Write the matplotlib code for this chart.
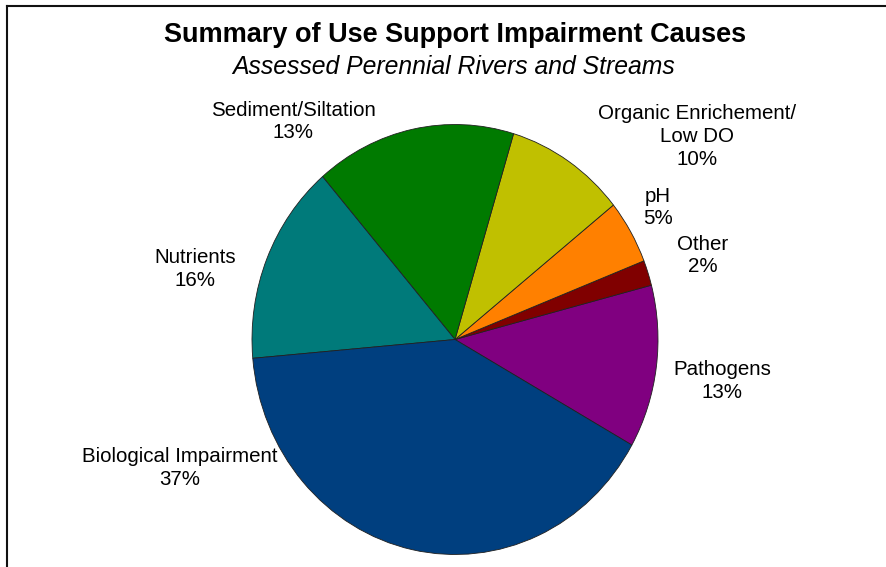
import matplotlib
matplotlib.use("Agg")
import matplotlib.pyplot as plt
from matplotlib.lines import Line2D

# ---- data (slice sizes, label text as printed) ----
categories = ["Pathogens", "Other", "pH", "Organic Enrichement/\nLow DO",
              "Sediment/Siltation", "Nutrients", "Biological Impairment"]
slice_values = [12.25, 1.9, 4.8, 9.6, 16.0, 15.1, 40.5]
label_pcts = ["13%", "2%", "5%", "10%", "13%", "16%", "37%"]
colors = ["#800080", "#800000", "#FF8000", "#C0C000",
          "#007A00", "#007A7A", "#003F7F"]

title = "Summary of Use Support Impairment Causes"
subtitle = "Assessed Perennial Rivers and Streams"

W, H = 887, 567
fig = plt.figure(figsize=(W / 100, H / 100), dpi=100)
fig.patch.set_facecolor("white")

# pie axes (slightly elliptical as in the reference)
cx, cy, rx, ry = 455, 339.5, 203, 215
ax = fig.add_axes([(cx - rx) / W, (H - cy - ry) / H, 2 * rx / W, 2 * ry / H])
ax.pie(slice_values, colors=colors, startangle=-29.4, counterclock=True,
       radius=1.0, wedgeprops=dict(edgecolor="#202020", linewidth=0.6))
ax.set_aspect("auto")
ax.set_xlim(-1, 1)
ax.set_ylim(-1, 1)
ax.axis("off")

font = "Liberation Sans"

def px(x, y):
    return x / W, 1 - y / H

# title and subtitle
fig.text(*px(455, 35), title, ha="center", va="center", fontsize=19.5,
         fontweight="bold", family=font, color="black")
fig.text(*px(454, 67), subtitle, ha="center", va="center", fontsize=17.8,
         style="italic", family=font, color="black")

# labels (pixel centers of each text block in the reference)
label_pos = [(722, 381), (703, 255.5), (658, 207.5), (697, 136.5),
             (293, 121.5), (195, 269), (180, 468)]
for name, pct, (x, y) in zip(categories, label_pcts, label_pos):
    fig.text(*px(x, y), f"{name}\n{pct}", ha="center", va="center",
             fontsize=14.8, family=font, color="black", linespacing=1.25,
             multialignment="center")

# frame lines (top and left)
fig.add_artist(Line2D([7 / W, 1], [1 - 6 / H, 1 - 6 / H], color="#111111",
                      linewidth=1.5, transform=fig.transFigure))
fig.add_artist(Line2D([7.5 / W, 7.5 / W], [0, 1 - 6 / H], color="#111111",
                      linewidth=1.5, transform=fig.transFigure))

fig.savefig("out.png", dpi=100, facecolor="white")
